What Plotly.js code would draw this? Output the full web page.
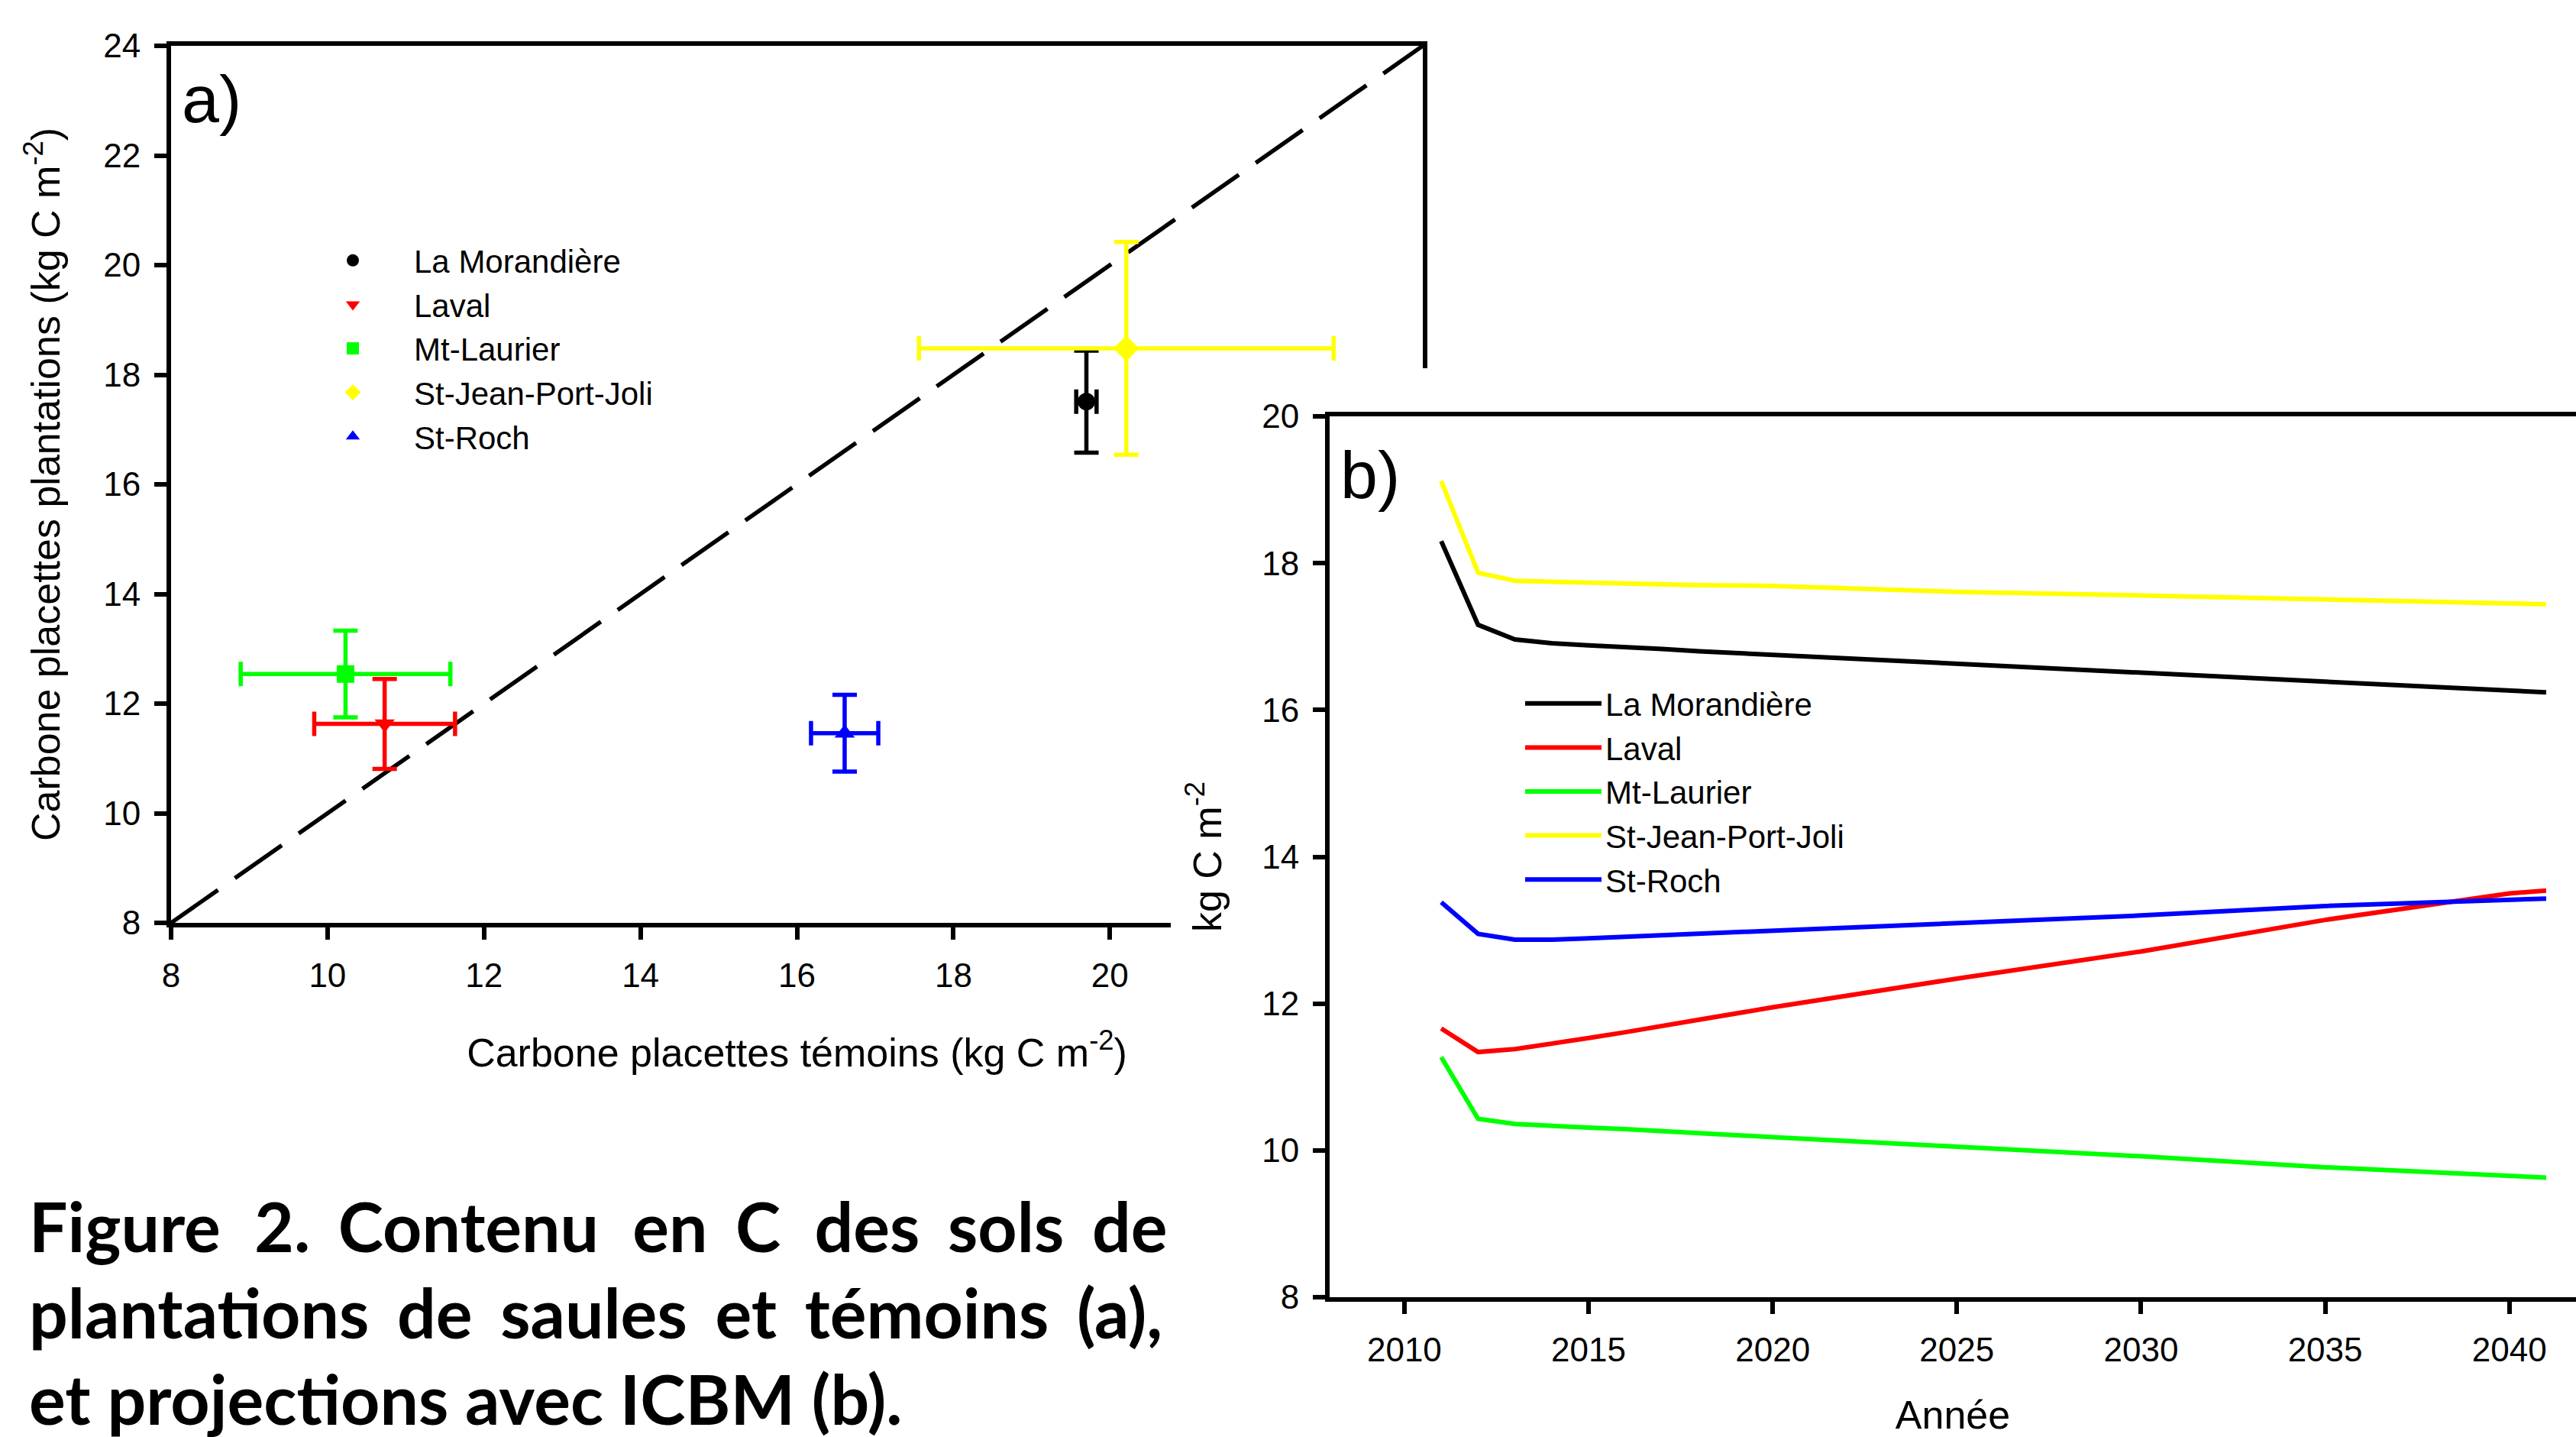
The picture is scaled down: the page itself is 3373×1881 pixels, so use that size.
<!DOCTYPE html>
<html>
<head>
<meta charset="utf-8">
<script src="https://cdn.plot.ly/plotly-3.0.1.min.js"></script>
<style>
html,body{margin:0;padding:0;background:#ffffff;}
#chart{width:3373px;height:1881px;}
</style>
</head>
<body>
<div id="chart"></div>
<script>
// ---------- data ----------
const sites = ['La Morandière', 'Laval', 'Mt-Laurier', 'St-Jean-Port-Joli', 'St-Roch'];
const siteColors = ['#000000', '#ff0000', '#00ff00', '#ffff00', '#0000ff'];
const siteSymbols = ['circle', 'triangle-down', 'square', 'diamond', 'triangle-up'];

// panel a : carbone placettes témoins (x) vs plantations (y), kg C m-2
const temoins        = [19.70, 10.73, 10.23, 20.21, 16.61];
const temoinsErr     = [0.13,  0.90,  1.34,  2.65,  0.43];
const plantations    = [17.51, 11.63, 12.54, 18.48, 11.46];
const plantationsErr = [0.93,  0.82,  0.79,  1.94,  0.70];
const oneToOne = [8, 24];
const ticksA = [8, 10, 12, 14, 16, 18, 20];

// panel b : ICBM projections, kg C m-2
const years = [2011, 2012, 2013, 2014, 2015, 2016, 2017, 2018, 2020, 2025, 2030, 2035, 2040, 2041];
const laMorandiere   = [18.30, 17.16, 16.96, 16.91, 16.88, 16.86, 16.83, 16.80, 16.75, 16.63, 16.50, 16.38, 16.26, 16.24];
const laval          = [11.66, 11.34, 11.38, 11.45, 11.53, 11.61, 11.69, 11.78, 11.95, 12.34, 12.71, 13.14, 13.50, 13.54];
const mtLaurier      = [11.27, 10.43, 10.36, 10.33, 10.31, 10.29, 10.26, 10.23, 10.18, 10.05, 9.92, 9.77, 9.65, 9.63];
const stJeanPortJoli = [19.12, 17.87, 17.76, 17.745, 17.73, 17.72, 17.71, 17.70, 17.69, 17.61, 17.56, 17.51, 17.45, 17.44];
const stRoch         = [13.38, 12.95, 12.87, 12.87, 12.89, 12.91, 12.93, 12.96, 13.00, 13.10, 13.20, 13.33, 13.41, 13.43];
const projections = [laMorandiere, laval, mtLaurier, stJeanPortJoli, stRoch];
const ticksB = [2010, 2015, 2020, 2025, 2030, 2035, 2040];

// caption lines (extra narrow spaces imitate the justified paragraph)
const captionLines = [
  'Figure\u2005 2.\u2006 Contenu\u2005 en\u2006 C\u2005 des\u2006 sols\u2006 de',
  'plantations\u2006 de\u2006 saules\u2006 et\u2006 témoins\u2006 (a),',
  'et projections avec ICBM (b).'
];

// ---------- layout helpers (pixel -> paper) ----------
const W = 3373, H = 1881;
const px = v => v / W;
const py = v => (H - v) / H;
const FONT = 'Liberation Sans, Arial, Helvetica, sans-serif';

const traces = [];
traces.push({
  x: oneToOne, y: oneToOne, type: 'scatter', mode: 'lines',
  line: {color: '#000', width: 5.5, dash: '75px,27px'},
  xaxis: 'x', yaxis: 'y', showlegend: false, hoverinfo: 'skip'
});
sites.forEach((s, i) => {
  traces.push({
    x: [temoins[i]], y: [plantations[i]], type: 'scatter', mode: 'markers', name: s,
    marker: {color: siteColors[i], symbol: siteSymbols[i], size: siteSymbols[i] === 'diamond' ? 26 : 23},
    error_x: {type: 'data', array: [temoinsErr[i]], color: siteColors[i], thickness: 5.5, width: 16},
    error_y: {type: 'data', array: [plantationsErr[i]], color: siteColors[i], thickness: 5.5, width: 16},
    xaxis: 'x', yaxis: 'y', legend: 'legend'
  });
});
// white cover subplot (panel b sits on top of panel a)
traces.push({x: [], y: [], type: 'scatter', mode: 'lines', xaxis: 'x2', yaxis: 'y2', showlegend: false, hoverinfo: 'skip'});
sites.forEach((s, i) => {
  traces.push({
    x: years, y: projections[i], type: 'scatter', mode: 'lines', name: s,
    line: {color: siteColors[i], width: 6},
    xaxis: 'x3', yaxis: 'y3', legend: 'legend2'
  });
});

const axisStyle = {
  showline: true, linewidth: 6, linecolor: '#000', ticks: 'outside', ticklen: 16, tickwidth: 6,
  tickcolor: '#000', showgrid: false, zeroline: false, ticklabelstandoff: 9,
  tickfont: {size: 44, color: '#000'}
};

const captionFont = {size: 89.5, family: 'Lato, Open Sans, sans-serif', color: '#000'};

const layout = {
  width: W, height: H, margin: {l: 0, r: 0, t: 0, b: 0, pad: 0},
  paper_bgcolor: '#ffffff', plot_bgcolor: '#ffffff',
  font: {family: FONT, color: '#000', size: 44},
  showlegend: true,
  xaxis: Object.assign({}, axisStyle, {
    domain: [px(224), px(1863)], range: [8, 24], tickvals: ticksA, anchor: 'y', mirror: true,
    title: {text: 'Carbone placettes témoins (kg C m<sup>-2</sup>)', font: {size: 52}, standoff: 62}
  }),
  yaxis: Object.assign({}, axisStyle, {
    domain: [py(1208), py(60)], range: [8, 24], dtick: 2, anchor: 'x', mirror: true,
    title: {text: 'Carbone placettes plantations (kg C m<sup>-2</sup>)', font: {size: 52}, standoff: 42}
  }),
  xaxis2: {domain: [px(1533), 1], range: [0, 1], visible: false, anchor: 'y2', fixedrange: true},
  yaxis2: {domain: [0, py(482)], range: [0, 1], visible: false, anchor: 'x2', fixedrange: true},
  xaxis3: Object.assign({}, axisStyle, {
    domain: [px(1741), 1], range: [2007.97, 2041.81], tickvals: ticksB, anchor: 'y3', mirror: true,
    title: {text: 'Année', font: {size: 52}, standoff: 62}
  }),
  yaxis3: Object.assign({}, axisStyle, {
    domain: [py(1698), py(545)], range: [8, 20], dtick: 2, anchor: 'x3', mirror: false,
    title: {text: 'kg C m<sup>-2</sup>', font: {size: 52}, standoff: 38}
  }),
  legend: {
    x: px(382), y: py(307), xanchor: 'left', yanchor: 'top', bgcolor: 'rgba(0,0,0,0)',
    borderwidth: 0, font: {size: 42, family: FONT}, itemwidth: 150, tracegroupgap: 0, traceorder: 'normal'
  },
  legend2: {
    x: px(1992), y: py(887), xanchor: 'left', yanchor: 'top', bgcolor: 'rgba(0,0,0,0)',
    borderwidth: 0, font: {size: 42, family: FONT}, itemwidth: 100, tracegroupgap: 0, traceorder: 'normal'
  },
  annotations: [
    {text: 'a)', xref: 'paper', yref: 'paper', x: px(236), y: py(130), xanchor: 'left', yanchor: 'middle',
     showarrow: false, font: {size: 88, family: FONT}},
    {text: 'b)', xref: 'paper', yref: 'paper', x: px(1753), y: py(622), xanchor: 'left', yanchor: 'middle',
     showarrow: false, font: {size: 88, family: FONT}}
  ].concat(captionLines.map((t, i) => ({
    text: '<b>' + t + '</b>', xref: 'paper', yref: 'paper', x: px(36), y: py(1604 + 113 * i),
    xanchor: 'left', yanchor: 'middle', showarrow: false, font: captionFont
  })))
};

Plotly.newPlot('chart', traces, layout, {displayModeBar: false, staticPlot: true});
</script>
</body>
</html>
